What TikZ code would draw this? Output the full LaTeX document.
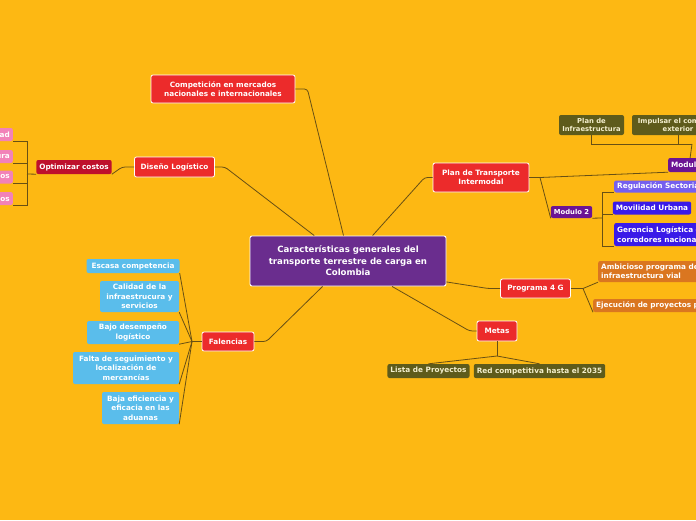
\documentclass[tikz,border=0pt]{standalone}
\usepackage{fontspec}
\setmainfont{DejaVu Sans}
\definecolor{bgamber}{RGB}{253,184,19}
\definecolor{linebrown}{RGB}{104,80,20}
\definecolor{redbox}{RGB}{236,43,43}
\definecolor{darkred}{RGB}{190,16,44}
\definecolor{centerpurple}{RGB}{106,45,142}
\definecolor{modpurple}{RGB}{108,20,148}
\definecolor{bluebox}{RGB}{58,26,232}
\definecolor{lightblue}{RGB}{90,189,235}
\definecolor{olivebox}{RGB}{94,91,27}
\definecolor{olivetext}{RGB}{244,239,205}
\definecolor{pinkbox}{RGB}{242,130,184}
\definecolor{orangebox}{RGB}{218,118,32}
\usetikzlibrary{positioning}

\begin{document}
\begin{tikzpicture}[x=1pt, y=-1pt,
  base/.style={rounded corners=2pt, text=white, align=center,
    inner xsep=3pt, inner ysep=2pt,
    font=\fontsize{7.3}{9.3}\selectfont\bfseries},
  ctopic/.style={base, fill=centerpurple, draw=white, line width=0.9pt,
    font=\fontsize{8.6}{11.5}\selectfont\bfseries},
  topic/.style={base, fill=redbox, draw=white, line width=0.8pt},
  sub/.style={base, fill=darkred},
  leaf/.style={base, fill=lightblue},
  olivebx/.style={base, fill=olivebox, text=olivetext},
  modbox/.style={base, fill=modpurple},
  bluebx/.style={base, fill=bluebox},
  pinkleaf/.style={base, fill=pinkbox, anchor=east, text width=24pt, align=right},
  orangebx/.style={base, fill=orangebox, anchor=west, align=left},
  conn/.style={draw=linebrown, line width=0.8pt, rounded corners=3pt},
]
\clip (0,0) rectangle (696,520);
\fill[bgamber] (0,0) rectangle (696,520);

% ---- central topic ----
\node[ctopic, minimum width=196, minimum height=50] (cen) at (348,261)
  {Características generales del\\transporte terrestre de carga en\\Colombia};

% ---- upper left branches ----
\node[topic, minimum width=144, minimum height=28] (comp) at (223,89)
  {Competición en mercados\\nacionales e internacionales};
\node[topic, minimum width=80, minimum height=20] (dis) at (174.5,167)
  {Diseño Logístico};
\node[sub, minimum width=74, minimum height=14] (opt) at (74,167)
  {Optimizar costos};
\node[pinkleaf, minimum height=13] (p1) at (13,134.5) {ad};
\node[pinkleaf, minimum height=13] (p2) at (13,156.5) {ura};
\node[pinkleaf, minimum height=13] (p3) at (13,177)   {os};
\node[pinkleaf, minimum height=13] (p4) at (13,198.5) {los};

\coordinate (ojn) at (27,174);
\draw[conn] (comp.east) -- ++(12,0) -- (cen.100);
\draw[conn] (dis.east) -- ++(10,0) -- (cen.143);
\draw[conn] (opt.south east) -- ([xshift=-12pt]dis.west) -- (dis.west);
\draw[conn, rounded corners=0pt] (opt.south west) -- (ojn);
\foreach \p in {p1,p2,p3,p4}
  \draw[conn, rounded corners=0pt] (ojn) |- (\p.south east);

% ---- Falencias (lower left) ----
\node[topic, minimum width=52, minimum height=19] (fal) at (228,341.5)
  {Falencias};
\node[leaf, minimum width=93, minimum height=14] (esc) at (133,266)
  {Escasa competencia};
\node[leaf, minimum width=79, minimum height=31] (cal) at (139.5,296.5)
  {Calidad de la\\infraestrucura y\\servicios};
\node[leaf, minimum width=92, minimum height=23] (bajd) at (133,332.5)
  {Bajo desempeño\\logístico};
\node[leaf, minimum width=106, minimum height=32] (fseg) at (126,368)
  {Falta de seguimiento y\\localización de\\mercancías};
\node[leaf, minimum width=77, minimum height=32] (bef) at (140.5,408)
  {Baja eficiencia y\\eficacia en las\\aduanas};

\coordinate (fjn) at (192,341.5);
\draw[conn] (fal.east) -- ++(12,0) -- (cen.225);
\draw[conn] (fal.west) -- (fjn);
\foreach \c in {esc,cal,bajd,fseg,bef}
  \draw[conn, rounded corners=0pt] (fjn) -- (\c.south east);

% ---- Plan de Transporte Intermodal (upper right) ----
\node[topic, minimum width=96, minimum height=29] (plan) at (481,177.5)
  {Plan de Transporte\\Intermodal};
\node[modbox, anchor=west, minimum height=14] (m1) at (668,165) {Modulo 1};
\node[modbox, minimum width=39, minimum height=12,
  font=\fontsize{6.8}{8}\selectfont\bfseries] (m2) at (571.5,212) {Modulo 2};
\node[olivebx, minimum width=65, minimum height=20,
  font=\fontsize{6.8}{8}\selectfont\bfseries] (pinf) at (591.5,125)
  {Plan de\\Infraestructura};
\node[olivebx, minimum width=92, minimum height=20,
  font=\fontsize{6.8}{8}\selectfont\bfseries] (imp) at (678,125)
  {Impulsar el comercio\\exterior};
\node[bluebx, anchor=west, minimum height=12, fill=bluebox!70!white] (reg)
  at (614,186.5) {Regulación Sectorial};
\node[bluebx, minimum width=76, minimum height=13] (mov) at (652,208)
  {Movilidad Urbana};
\node[bluebx, anchor=west, align=left, minimum height=23] (ger)
  at (614,234.5) {Gerencia Logística de\\corredores nacionales};

\coordinate (pjn) at (540,177.5);
\coordinate (mbar) at (692,144);
\coordinate (m2jn) at (602,218);
\draw[conn] (cen.46) -- ([xshift=-8pt]plan.west) -- (plan.west);
\draw[conn] (plan.east) -- (pjn);
\draw[conn, rounded corners=0pt] (pjn) -- (m1.south west);
\draw[conn, rounded corners=0pt] (pjn) -- (m2.south west);
\draw[conn, rounded corners=0pt] (m1.north) -- (mbar);
\draw[conn, rounded corners=0pt] (mbar) -| (pinf.south);
\draw[conn, rounded corners=0pt] (mbar) -| (imp.south);
\draw[conn, rounded corners=0pt] (m2.south east) -- (m2jn);
\draw[conn, rounded corners=0pt] (m2jn) |- (reg.south west);
\draw[conn, rounded corners=0pt] (m2jn) |- (mov.south west);
\draw[conn, rounded corners=0pt] (m2jn) |- (ger.south west);

% ---- Programa 4 G and Metas (lower right) ----
\node[topic, minimum width=70, minimum height=19] (prog) at (535.5,288.5)
  {Programa 4 G};
\node[orangebx, minimum height=21] (amb) at (598,271.5)
  {Ambicioso programa de\\infraestructura vial};
\node[orangebx, minimum height=13] (eje) at (593,305.5)
  {Ejecución de proyectos p};
\node[topic, minimum width=40, minimum height=20] (met) at (497,331)
  {Metas};
\node[olivebx, minimum width=80, minimum height=14] (lis) at (428.5,371)
  {Lista de Proyectos};
\node[olivebx, minimum width=127, minimum height=14] (red) at (539.5,371)
  {Red competitiva hasta el 2035};

\coordinate (gjn) at (583,288.5);
\coordinate (mjn) at (497,356);
\draw[conn] (cen.348) -- ([xshift=-12pt]prog.west) -- (prog.west);
\draw[conn] (prog.east) -- (gjn);
\draw[conn, rounded corners=0pt] (gjn) -- (amb.south west);
\draw[conn, rounded corners=0pt] (gjn) -- (eje.south west);
\draw[conn] (cen.330) -- ([xshift=-7pt]met.west) -- (met.west);
\draw[conn, rounded corners=0pt] (met.south) -- (mjn);
\draw[conn, rounded corners=0pt] (mjn) -- (lis.north);
\draw[conn, rounded corners=0pt] (mjn) -- (red.north);

\end{tikzpicture}
\end{document}
